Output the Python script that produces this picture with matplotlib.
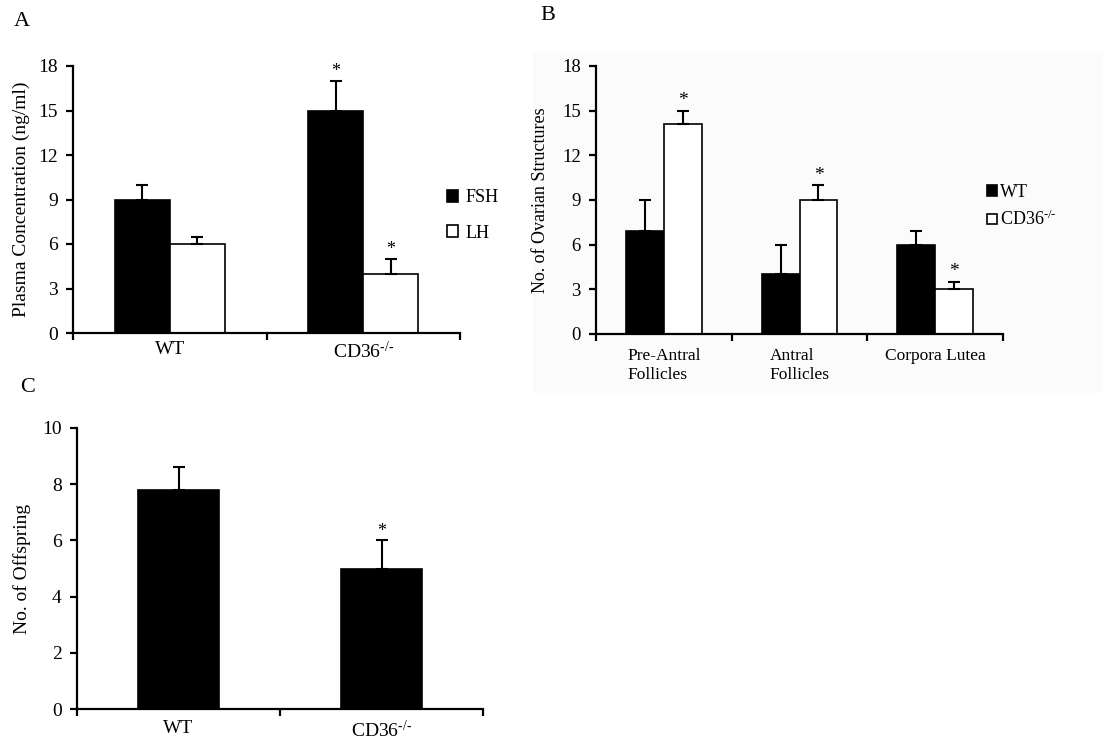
import matplotlib
matplotlib.use("Agg")
import matplotlib.pyplot as plt
from matplotlib.patches import Rectangle
import numpy as np

plt.rcParams["mathtext.fontset"] = "custom"
plt.rcParams["mathtext.rm"] = "Liberation Serif"
plt.rcParams["mathtext.it"] = "Liberation Serif:italic"
plt.rcParams["mathtext.bf"] = "Liberation Serif:bold"

# ---- data ----
ko_label = r"CD36$^{\mathrm{\text{-/-}}}$"
a_groups = ["WT", ko_label]
a_fsh = [9, 15]
a_fsh_err = [1, 2]
a_lh = [6, 4]
a_lh_err = [0.5, 1]
a_fsh_sig = [False, True]
a_lh_sig = [False, True]

b_groups = ["Pre-Antral\nFollicles", "Antral\nFollicles", "Corpora Lutea"]
b_wt = [6.9, 4, 6]
b_wt_err = [2.1, 2, 0.95]
b_ko = [14.1, 9, 3]
b_ko_err = [0.9, 1, 0.5]
b_ko_sig = [True, True, True]

c_groups = ["WT", ko_label]
c_vals = [7.8, 5.0]
c_err = [0.8, 1.0]
c_sig = [False, True]

serifA = ["Liberation Serif", "DejaVu Serif"]
serifB = ["Liberation Serif", "DejaVu Serif"]

fig = plt.figure(figsize=(11.03, 7.41), dpi=100)

# faint background of panel B
bg = Rectangle((533/1103, 1-393/741), (1102-533)/1103, (393-53)/741,
               transform=fig.transFigure, facecolor="#fbfbfb",
               edgecolor="none", zorder=-10)
fig.patches.append(bg)

def style_axes(ax, n, ymax, ystep, fs, family):
    for s in ["top", "right"]:
        ax.spines[s].set_visible(False)
    ax.spines["left"].set_linewidth(1.6)
    ax.spines["bottom"].set_linewidth(1.6)
    ax.set_xlim(-0.5, n - 0.5)
    ax.set_ylim(0, ymax)
    ax.set_yticks(np.arange(0, ymax + 0.01, ystep))
    ax.set_xticks(np.arange(-0.5, n, 1.0))
    ax.set_xticklabels([])
    ax.tick_params(axis="both", direction="out", width=1.6, length=5, labelsize=fs)
    ax.tick_params(axis="y", pad=6)
    for lab in ax.get_yticklabels():
        lab.set_family(family)
    ax.patch.set_alpha(0)

err_kw = dict(ecolor="black", elinewidth=1.5, capsize=4, capthick=1.5)

# ---------- Panel A ----------
axA = fig.add_axes([73/1103, 1-333/741, (460-73)/1103, (333-66)/741])
xa = np.arange(len(a_groups))
wA = 0.284
axA.bar(xa - wA/2, a_fsh, wA, color="black", edgecolor="black", linewidth=1.2,
        yerr=[np.zeros(len(a_fsh)), a_fsh_err], error_kw=err_kw, label="FSH")
axA.bar(xa + wA/2, a_lh, wA, color="white", edgecolor="black", linewidth=1.2,
        yerr=[np.zeros(len(a_lh)), a_lh_err], error_kw=err_kw, label="LH")
for i in range(len(a_groups)):
    if a_fsh_sig[i]:
        axA.text(xa[i] - wA/2, a_fsh[i] + a_fsh_err[i] + 0.05, "*", ha="center", va="bottom",
                 fontsize=13, family=serifA)
    if a_lh_sig[i]:
        axA.text(xa[i] + wA/2, a_lh[i] + a_lh_err[i] + 0.05, "*", ha="center", va="bottom",
                 fontsize=13, family=serifA)
style_axes(axA, 2, 18, 3, 14, serifA)
axA.set_xticks(xa, minor=True)
axA.set_xticklabels(a_groups, minor=True, family=serifA, fontsize=14)
axA.tick_params(axis="x", which="minor", length=0, pad=6)
axA.set_ylabel("Plasma Concentration (ng/ml)", family=serifA, fontsize=14, labelpad=6)
axA.legend(loc="center left", bbox_to_anchor=(0.966, 0.44), frameon=False, borderpad=0,
           borderaxespad=0, prop={"family": serifA, "size": 13}, handlelength=0.62,
           handleheight=0.62, handletextpad=0.4, labelspacing=1.0)

# ---------- Panel B ----------
axB = fig.add_axes([596/1103, 1-334/741, (1003-596)/1103, (334-66)/741])
xb = np.arange(len(b_groups))
wB = 0.28
axB.bar(xb - wB/2, b_wt, wB, color="black", edgecolor="black", linewidth=1.2,
        yerr=[np.zeros(len(b_wt)), b_wt_err], error_kw=err_kw, label="WT")
axB.bar(xb + wB/2, b_ko, wB, color="white", edgecolor="black", linewidth=1.2,
        yerr=[np.zeros(len(b_ko)), b_ko_err], error_kw=err_kw, label=ko_label)
for i in range(len(b_groups)):
    if b_ko_sig[i]:
        axB.text(xb[i] + wB/2, b_ko[i] + b_ko_err[i] + 0.1, "*", ha="center", va="bottom",
                 fontsize=14, family=serifB)
style_axes(axB, 3, 18, 3, 13.5, serifB)
axB.set_xticks(xb, minor=True)
axB.set_xticklabels(b_groups, minor=True, family=serifB, fontsize=12.5,
                    va="top", linespacing=1.25, multialignment="left")
axB.tick_params(axis="x", which="minor", length=0, pad=10)
axB.set_ylabel("No. of Ovarian Structures", family=serifB, fontsize=13, labelpad=9)
axB.legend(loc="center left", bbox_to_anchor=(0.96, 0.475), frameon=False, borderpad=0,
           borderaxespad=0, prop={"family": serifB, "size": 13}, handlelength=0.55,
           handleheight=0.55, handletextpad=0.2, labelspacing=0.5)

# ---------- Panel C ----------
axC = fig.add_axes([77/1103, 1-709/741, (483-77)/1103, (709-428)/741])
xc = np.arange(len(c_groups))
wC = 0.40
axC.bar(xc, c_vals, wC, color="black", edgecolor="black", linewidth=1.2,
        yerr=[np.zeros(len(c_vals)), c_err], error_kw=err_kw)
for i in range(len(c_groups)):
    if c_sig[i]:
        axC.text(xc[i], c_vals[i] + c_err[i] + 0.02, "*", ha="center", va="bottom",
                 fontsize=13, family=serifA)
style_axes(axC, 2, 10, 2, 14, serifA)
axC.set_xticks(xc, minor=True)
axC.set_xticklabels(c_groups, minor=True, family=serifA, fontsize=14)
axC.tick_params(axis="x", which="minor", length=0, pad=8)
axC.set_ylabel("No. of Offspring", family=serifA, fontsize=14, labelpad=8)

# panel letters
fig.text(22/1103, 1-22/741, "A", fontsize=16, family=serifA, ha="center", va="center")
fig.text(548/1103, 1-15/741, "B", fontsize=16, family=serifA, ha="center", va="center")
fig.text(28/1103, 1-387/741, "C", fontsize=16, family=serifA, ha="center", va="center")

fig.savefig("out.png", dpi=100)
